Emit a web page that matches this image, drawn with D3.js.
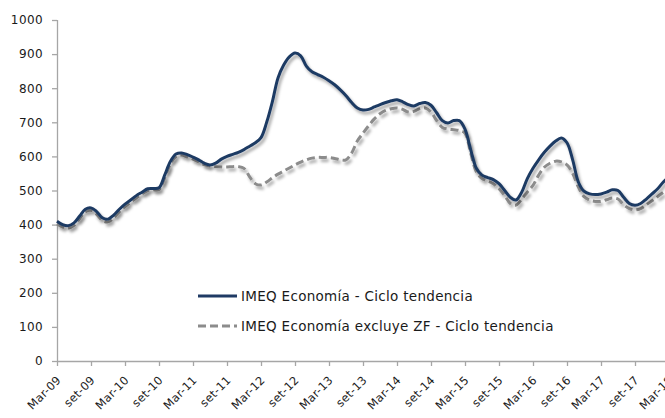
<!DOCTYPE html>
<html>
<head>
<meta charset="utf-8">
<script src="https://cdn.jsdelivr.net/npm/d3@7"></script>
<style>
  body { margin: 0; background: #fff; }
  text { font-family: "DejaVu Sans", sans-serif; fill: #1a1a1a; }
</style>
</head>
<body>
<script>
'use strict';

var width = 665,
    height = 418;

// tick labels, one every 6 months starting Mar-09
var tickLabels = ["Mar-09", "set-09", "Mar-10", "set-10", "Mar-11", "set-11",
  "Mar-12", "set-12", "Mar-13", "set-13", "Mar-14", "set-14", "Mar-15",
  "set-15", "Mar-16", "set-16", "Mar-17", "set-17", "Mar-18"];

var seriesNames = ["IMEQ Economía - Ciclo tendencia",
  "IMEQ Economía excluye ZF - Ciclo tendencia"];

// monthly values, Mar-09 onwards
var imeq = [410, 400, 397, 405, 425, 445, 449, 438, 420, 416, 428, 445,
  460, 472, 485, 495, 505, 506, 508, 545, 585, 607, 610, 605,
  598, 590, 580, 575, 580, 592, 600, 606, 612, 620, 630, 640,
  655, 700, 760, 830, 868, 892, 903, 895, 865, 848, 840, 832,
  822, 810, 795, 778, 758, 742, 736, 738, 745, 752, 758, 763,
  766, 760, 752, 748, 755, 758, 750, 728, 705, 698, 705, 705,
  680, 620, 565, 545, 538, 532, 520, 500, 480, 472, 495, 535,
  565, 590, 612, 630, 645, 654, 640, 590, 525, 498, 490, 488,
  490, 495, 502, 500, 480, 462, 457, 462, 475, 490, 505, 525, 540];

var imeqZF = [402, 393, 390, 398, 418, 438, 442, 430, 412, 408, 420, 438,
  453, 466, 479, 490, 500, 502, 503, 538, 578, 600, 604, 598,
  592, 584, 576, 572, 570, 569, 569, 570, 570, 565, 540, 520,
  516, 525, 537, 548, 557, 566, 575, 583, 590, 595, 597, 597,
  597, 594, 590, 590, 610, 645, 668, 690, 710, 725, 735, 740,
  742, 738, 730, 732, 740, 742, 730, 705, 685, 680, 678, 676,
  668, 610, 555, 535, 528, 520, 505, 485, 462, 457, 475, 495,
  515, 545, 568, 580, 586, 584, 575, 550, 510, 482, 472, 468,
  468, 473, 478, 475, 458, 447, 443, 447, 458, 470, 482, 495, 505];

var svg = d3.select("body").append("svg")
  .attr("width", width)
  .attr("height", height);

var defs = svg.append("defs");
defs.append("filter")
  .attr("id", "shadow")
  .attr("x", "-5%").attr("y", "-5%")
  .attr("width", "110%").attr("height", "115%")
  .append("feDropShadow")
  .attr("dx", 2).attr("dy", 3)
  .attr("stdDeviation", 1.6)
  .attr("flood-color", "#000")
  .attr("flood-opacity", 0.35);

var x = d3.scaleLinear()
  .domain([0, 108])
  .range([57, 669]);

var y = d3.scaleLinear()
  .domain([0, 1000])
  .range([361, 20]);

// y axis
var yAxis = svg.append("g")
  .attr("class", "y-axis")
  .attr("transform", "translate(57,0)")
  .call(d3.axisLeft(y)
    .tickValues(d3.range(0, 1001, 100))
    .tickFormat(d3.format("d"))
    .tickSize(5).tickPadding(9));
yAxis.selectAll("text")
  .style("font-size", "12px")
  .style("letter-spacing", "0.4px");
yAxis.select(".domain").attr("d", "M0.5,20V361");

// x axis
var xAxis = svg.append("g")
  .attr("class", "x-axis")
  .attr("transform", "translate(0,361)")
  .call(d3.axisBottom(x)
    .tickValues(d3.range(0, 109, 6))
    .tickFormat(function(d, i) { return tickLabels[i]; })
    .tickSize(5));
xAxis.selectAll("text")
  .style("font-size", "11.5px")
  .style("letter-spacing", "0.3px")
  .style("text-anchor", "end")
  .attr("x", -11)
  .attr("y", 17)
  .attr("dy", 0)
  .attr("transform", "rotate(-45)");
xAxis.select(".domain").attr("d", "M57,0.5H" + width);

svg.selectAll(".domain, .tick line")
  .attr("stroke", "#a6a6a6")
  .attr("stroke-width", 1.3);

var line = d3.line()
  .x(function(d, i) { return x(i); })
  .y(function(d) { return y(d); })
  .curve(d3.curveCatmullRom.alpha(0.5));

svg.append("path")
  .datum(imeqZF)
  .attr("fill", "none")
  .attr("stroke", "#8c8c8c")
  .attr("stroke-width", 3)
  .attr("stroke-dasharray", "8,4")
  .attr("filter", "url(#shadow)")
  .attr("d", line);

svg.append("path")
  .datum(imeq)
  .attr("fill", "none")
  .attr("stroke", "#1f3a64")
  .attr("stroke-width", 3)
  .attr("filter", "url(#shadow)")
  .attr("d", line);

// legend
var legend = svg.append("g");
var legendRows = [
  {name: seriesNames[0], color: "#1f3a64", dash: null, y: 296},
  {name: seriesNames[1], color: "#8c8c8c", dash: "8,4", y: 326}
];
legendRows.forEach(function(r) {
  legend.append("line")
    .attr("x1", 198).attr("x2", 237)
    .attr("y1", r.y).attr("y2", r.y)
    .attr("stroke", r.color)
    .attr("stroke-width", 3)
    .attr("stroke-dasharray", r.dash);
  legend.append("text")
    .attr("x", 241).attr("y", r.y + 5)
    .style("font-size", "13.5px")
    .style("letter-spacing", "0.3px")
    .text(r.name);
});
</script>
</body>
</html>
